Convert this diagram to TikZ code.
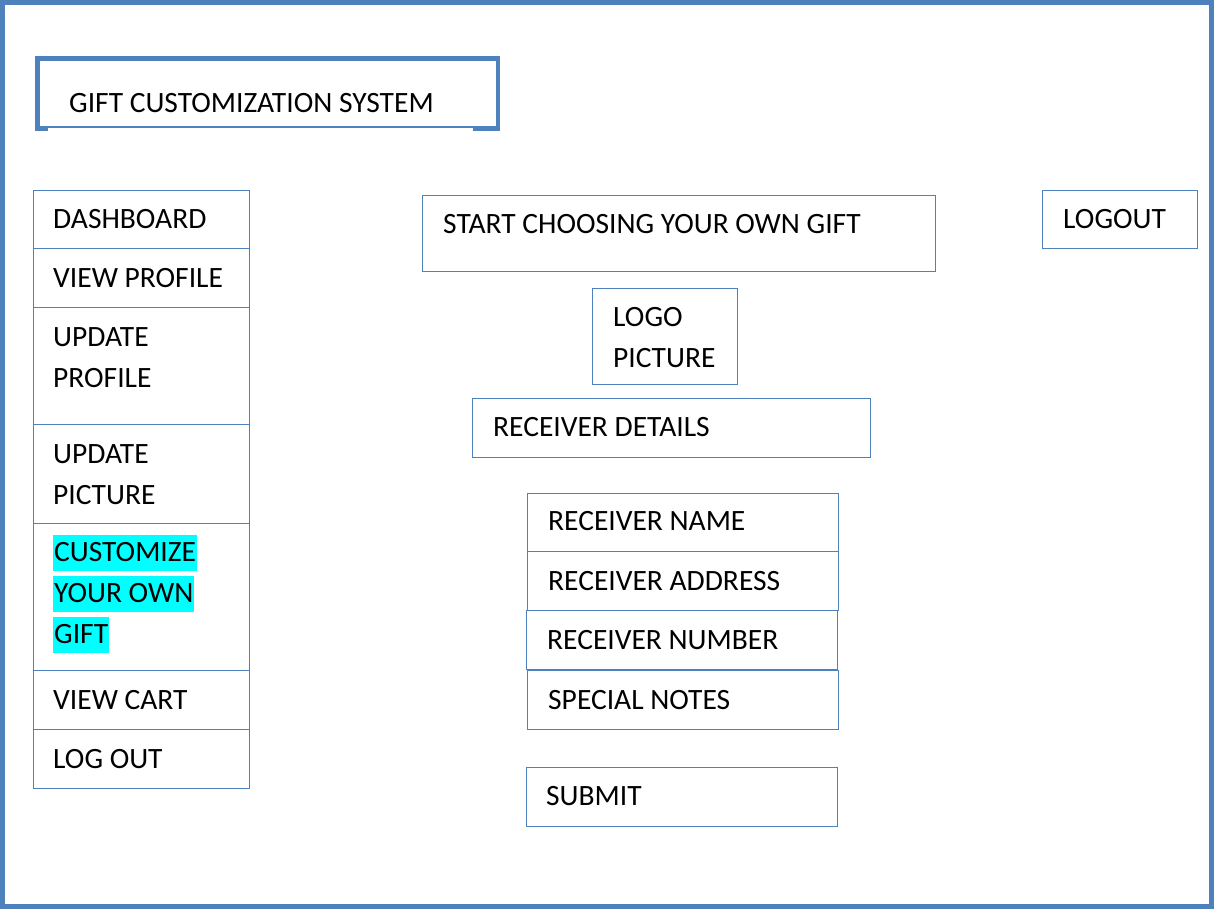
\documentclass[tikz,border=0pt]{standalone}
\usepackage{fontspec}
\setmainfont{Carlito}
\definecolor{wblue}{HTML}{4F81BD}
\definecolor{hl}{HTML}{00FFFF}
\tikzset{
  box/.style={draw=wblue, line width=1pt, inner sep=0pt, outer sep=0pt, anchor=north west},
  txt/.style={font=\fontsize{29.5}{41}\selectfont, inner sep=0pt, anchor=base west, text=black},
  hltxt/.style={txt, fill=hl, text height=26.5pt, text depth=9.5pt, inner xsep=1pt}
}
\begin{document}
\begin{tikzpicture}[x=1pt,y=-1pt]
\useasboundingbox (0,0) rectangle (1214,909);
\fill[white] (0,0) rectangle (1214,909);
% outer frame
\draw[wblue, line width=4.5pt] (2.5,2.5) rectangle (1211.5,906.5);
% title box
\node[draw=wblue, line width=4.5pt, inner sep=0pt, outer sep=0pt, anchor=north west, minimum width=460.5pt, minimum height=70pt] (title) at (37.5,58.5) {};
\fill[white] (48,128.3) rectangle (473,131.6);
\node[txt] (titletxt) at (69,113) {GIFT CUSTOMIZATION SYSTEM};
\begin{scope}[shift={(0.5,0.5)}]
% left menu
\node[box, minimum width=216pt, minimum height=58pt] (m1) at (33,190) {};
\node[box, minimum width=216pt, minimum height=59pt] (m2) at (33,248) {};
\node[box, minimum width=216pt, minimum height=117pt] (m3) at (33,307) {};
\node[box, minimum width=216pt, minimum height=99pt] (m4) at (33,424) {};
\node[box, minimum width=216pt, minimum height=147pt] (m5) at (33,523) {};
\node[box, minimum width=216pt, minimum height=59pt] (m6) at (33,670) {};
\node[box, minimum width=216pt, minimum height=59pt] (m7) at (33,729) {};
% centre column
\node[box, minimum width=513pt, minimum height=76pt] (start) at (422,195) {};
\node[box, minimum width=145pt, minimum height=96pt] (logo) at (592,288) {};
\node[box, minimum width=398pt, minimum height=59pt] (rdet) at (472,398) {};
\node[box, minimum width=311pt, minimum height=58pt] (rname) at (527,493) {};
\node[box, minimum width=311pt, minimum height=59pt] (raddr) at (527,551) {};
\node[box, minimum width=311pt, minimum height=59pt] (rnum) at (526,610) {};
\node[box, minimum width=311pt, minimum height=59pt] (notes) at (527,670) {};
\node[box, minimum width=311pt, minimum height=59pt] (submit) at (526,767) {};
% logout
\node[box, minimum width=155pt, minimum height=58pt] (logout) at (1042,190) {};
\end{scope}
% texts
\node[txt] (t1) at (53,228.5) {DASHBOARD};
\node[txt] (t2) at (53,287.5) {VIEW PROFILE};
\node[txt] (t3a) at (53,346.5) {UPDATE};
\node[txt] (t3b) at (53,387.5) {PROFILE};
\node[txt] (t4a) at (53,463.5) {UPDATE};
\node[txt] (t4b) at (53,504.5) {PICTURE};
\node[hltxt] (t5a) at (53,561.5) {CUSTOMIZE};
\node[hltxt] (t5b) at (53,602.5) {YOUR OWN};
\node[hltxt] (t5c) at (53,643.5) {GIFT};
\node[txt] (t6) at (53,709.5) {VIEW CART};
\node[txt] (t7) at (53,768.5) {LOG OUT};
\node[txt] (starttxt) at (443,233.5) {START CHOOSING YOUR OWN GIFT};
\node[txt] (logoa) at (613,326.5) {LOGO};
\node[txt] (logob) at (613,367.5) {PICTURE};
\node[txt] (rdettxt) at (493,436.5) {RECEIVER DETAILS};
\node[txt] (rnametxt) at (548,530.5) {RECEIVER NAME};
\node[txt] (raddrtxt) at (548,590.5) {RECEIVER ADDRESS};
\node[txt] (rnumtxt) at (547,649.5) {RECEIVER NUMBER};
\node[txt] (notestxt) at (548,709.5) {SPECIAL NOTES};
\node[txt] (submittxt) at (546,805.5) {SUBMIT};
\node[txt] (logouttxt) at (1063,228.5) {LOGOUT};
\end{tikzpicture}
\end{document}
